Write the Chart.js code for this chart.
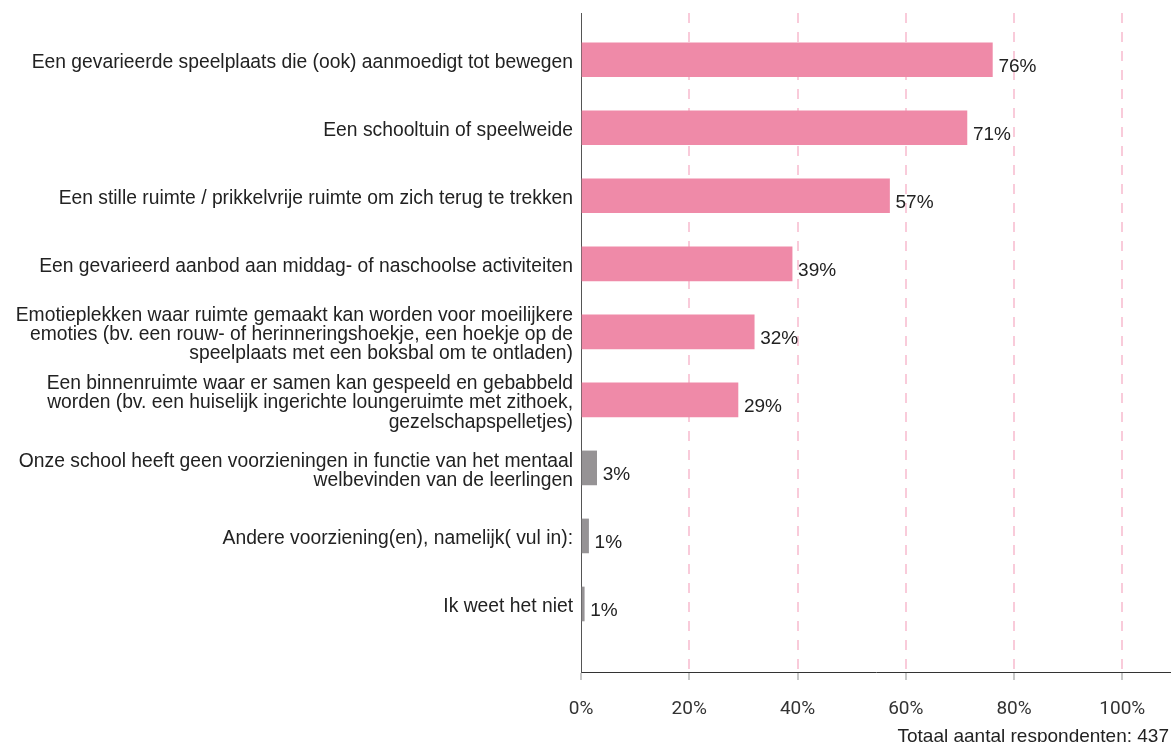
<!DOCTYPE html>
<html>
<head>
<meta charset="utf-8">
<script src="https://cdn.jsdelivr.net/npm/chart.js@4.4.1/dist/chart.umd.min.js"></script>
<style>
    html, body { margin: 0; padding: 0; background: #fff; }
    #wrap { width: 1171px; height: 742px; }
</style>
</head>
<body>
<div id="wrap"><canvas id="chart" width="1171" height="742"></canvas></div>
<script>
const categories = [
    ['Een gevarieerde speelplaats die (ook) aanmoedigt tot bewegen'],
    ['Een schooltuin of speelweide'],
    ['Een stille ruimte / prikkelvrije ruimte om zich terug te trekken'],
    ['Een gevarieerd aanbod aan middag- of naschoolse activiteiten'],
    ['Emotieplekken waar ruimte gemaakt kan worden voor moeilijkere',
     'emoties (bv. een rouw- of herinneringshoekje, een hoekje op de',
     'speelplaats met een boksbal om te ontladen)'],
    ['Een binnenruimte waar er samen kan gespeeld en gebabbeld',
     'worden (bv. een huiselijk ingerichte loungeruimte met zithoek,',
     'gezelschapspelletjes)'],
    ['Onze school heeft geen voorzieningen in functie van het mentaal',
     'welbevinden van de leerlingen'],
    ['Andere voorziening(en), namelijk( vul in):'],
    ['Ik weet het niet'],
];
const percentages = [76, 71.3, 57, 39, 32, 29, 2.9, 1.4, 0.6];
const xTicks = [0, 20, 40, 60, 80, 100];
const respondents = 437;

const PINK = '#ef8aa8';
const GREY = '#969395';
// the last three answers are drawn in grey
const barColors = categories.map((c, i) => (i < 6 ? PINK : GREY));

const labelFont = '"Liberation Sans", Arial, sans-serif';

const valueLabels = {
    id: 'valueLabels',
    afterDatasetsDraw(chart) {
        const ctx = chart.ctx;
        const meta = chart.getDatasetMeta(0);
        ctx.save();
        ctx.font = '19px ' + labelFont;
        ctx.fillStyle = '#222';
        ctx.textAlign = 'left';
        ctx.textBaseline = 'middle';
        meta.data.forEach((bar, i) => {
            ctx.fillText(Math.round(percentages[i]) + '%', bar.x + 6, bar.y + 7);
        });
        ctx.restore();
    },
};

const footer = {
    id: 'footer',
    afterDraw(chart) {
        const ctx = chart.ctx;
        ctx.save();
        ctx.font = '19px ' + labelFont;
        ctx.fillStyle = '#222';
        ctx.textAlign = 'right';
        ctx.textBaseline = 'alphabetic';
        ctx.fillText('Totaal aantal respondenten: ' + respondents, 1169, 742);
        ctx.restore();
    },
};

new Chart(document.getElementById('chart'), {
    type: 'bar',
    data: {
        datasets: [{
            data: percentages.map((v, i) => ({ x: v, y: i })),
            backgroundColor: barColors,
            borderWidth: 0,
            barThickness: 34,
        }],
    },
    options: {
        indexAxis: 'y',
        responsive: false,
        animation: false,
        layout: { padding: { top: 13, left: 0, right: 0, bottom: 0 } },
        scales: {
            x: {
                type: 'linear',
                min: 0,
                max: 109,
                afterBuildTicks: (scale) => {
                    scale.ticks = xTicks.map((v) => ({ value: v }));
                },
                afterFit: (scale) => {
                    scale.height = 70;
                },
                grid: {
                    color: (ctx) => (ctx.tick && ctx.tick.value === 0 ? 'rgba(0,0,0,0)' : '#f9cbda'),
                    lineWidth: 2,
                    tickColor: '#c8c8c8',
                    tickWidth: 2,
                    tickLength: 8,
                },
                border: { display: true, color: '#333', width: 1, dash: [10, 9] },
                ticks: {
                    callback: (v) => v + '%',
                    font: { family: 'Roboto', size: 19 },
                    color: '#333',
                    padding: 18,
                    maxRotation: 0,
                },
            },
            y: {
                type: 'linear',
                reverse: true,
                offset: false,
                min: -0.687,
                max: 9.0,
                afterBuildTicks: (scale) => {
                    scale.ticks = categories.map((c, i) => ({ value: i }));
                },
                afterFit: (scale) => {
                    scale.width = 581;
                    scale.paddingTop = 0;
                    scale.paddingBottom = 0;
                },
                grid: { display: false, drawTicks: false },
                border: { display: true, color: '#555', width: 1 },
                ticks: {
                    autoSkip: false,
                    callback: (v) => categories[v],
                    font: { family: labelFont, size: 19.3, lineHeight: 1.0 },
                    color: '#222',
                    padding: 8,
                    labelOffset: 3,
                },
            },
        },
        plugins: {
            legend: { display: false },
            tooltip: { enabled: false },
        },
    },
    plugins: [valueLabels, footer],
});
</script>
</body>
</html>
